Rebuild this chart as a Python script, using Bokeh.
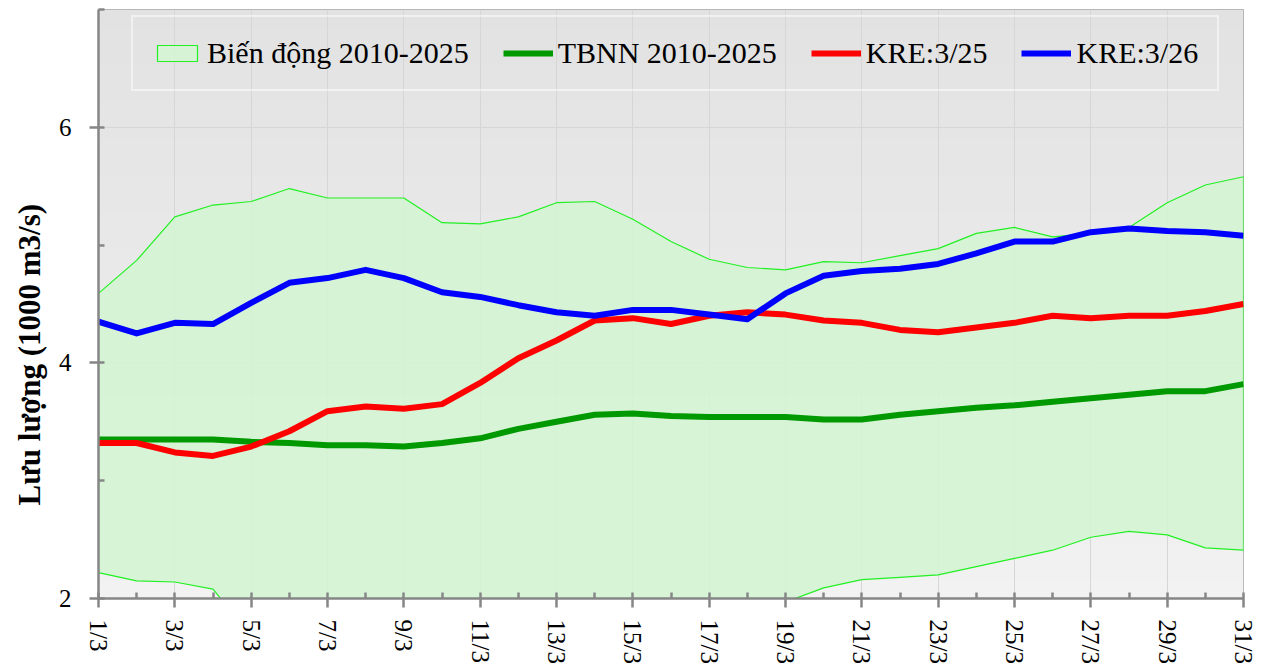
import math
import numpy as np
from bokeh.plotting import figure
from bokeh.models import FixedTicker, Legend, LegendItem, Range1d, Title
from bokeh.embed import file_html
from bokeh.resources import INLINE

# ---------------- data ----------------
days = list(range(1, 32))
x_tick_days = [1, 3, 5, 7, 9, 11, 13, 15, 17, 19, 21, 23, 25, 27, 29, 31]
x_minor_days = [2, 4, 6, 8, 10, 12, 14, 16, 18, 20, 22, 24, 26, 28, 30]
x_tick_labels = {d: f"{d}/3" for d in x_tick_days}
y_ticks = [2, 4, 6]
y_minor_ticks = [3, 5, 7]

band_upper = [4.59, 4.87, 5.24, 5.34, 5.37, 5.48, 5.40, 5.40, 5.40, 5.19,
              5.18, 5.24, 5.36, 5.37, 5.22, 5.03, 4.88, 4.81, 4.79, 4.86,
              4.85, 4.91, 4.97, 5.10, 5.15, 5.07, 5.10, 5.15, 5.36, 5.51, 5.58]
band_lower = [2.22, 2.15, 2.14, 2.08, 1.68, 1.62, 1.58, 1.55, 1.55, 1.58,
              1.60, 1.64, 1.68, 1.72, 1.76, 1.80, 1.85, 1.90, 1.97, 2.09,
              2.16, 2.18, 2.20, 2.27, 2.34, 2.41, 2.52, 2.57, 2.54, 2.43, 2.41]
tbnn = [3.35, 3.35, 3.35, 3.35, 3.33, 3.32, 3.30, 3.30, 3.29, 3.32,
        3.36, 3.44, 3.50, 3.56, 3.57, 3.55, 3.54, 3.54, 3.54, 3.52,
        3.52, 3.56, 3.59, 3.62, 3.64, 3.67, 3.70, 3.73, 3.76, 3.76, 3.82]
kre_25 = [3.32, 3.32, 3.24, 3.21, 3.29, 3.42, 3.59, 3.63, 3.61, 3.65,
          3.83, 4.04, 4.19, 4.36, 4.38, 4.33, 4.40, 4.43, 4.41, 4.36,
          4.34, 4.28, 4.26, 4.30, 4.34, 4.40, 4.38, 4.40, 4.40, 4.44, 4.50]
kre_26 = [4.35, 4.25, 4.34, 4.33, 4.51, 4.68, 4.72, 4.79, 4.72, 4.60,
          4.56, 4.49, 4.43, 4.40, 4.45, 4.45, 4.41, 4.37, 4.59, 4.74,
          4.78, 4.80, 4.84, 4.93, 5.03, 5.03, 5.11, 5.14, 5.12, 5.11, 5.08]

labels = ["Biến động 2010-2025", "TBNN 2010-2025", "KRE:3/25", "KRE:3/26"]
y_title = "Lưu lượng (1000 m3/s)"

x_start, x_end = 1, 31
y_start, y_end = 2, 7

FONT = "Liberation Serif"

# ---------------- figure ----------------
p = figure(width=1272, height=672, output_backend="svg", toolbar_location=None,
           x_range=Range1d(x_start, x_end), y_range=Range1d(y_start, y_end),
           min_border_left=98, min_border_right=29, min_border_top=9,
           min_border_bottom=74)
p.background_fill_color = "#ffffff"
p.border_fill_color = "#ffffff"
p.outline_line_color = "#a8a8a8"
p.outline_line_width = 1

# gradient background of the plot area
n = 64
grad = np.zeros((n, 1), dtype=np.uint32)
view = grad.view(dtype=np.uint8).reshape((n, 1, 4))
for i in range(n):
    t = i / (n - 1)  # 0 bottom -> 1 top
    c = int(round(0xf2 + (0xe2 - 0xf2) * t))
    view[i, 0, :] = [c, c, c, 255]
p.image_rgba(image=[grad], x=x_start, y=y_start, dw=x_end - x_start,
             dh=y_end - y_start, level="image")

# band
band_x = days + days[::-1]
band_y = band_upper + band_lower[::-1]
r_band = p.patch(band_x, band_y, fill_color="#d4f4d4", fill_alpha=0.9,
                 line_color="#22f022", line_width=1.2)

r_tbnn = p.line(days, tbnn, line_color="#009900", line_width=6, line_join="round")
r_25 = p.line(days, kre_25, line_color="#ff0000", line_width=6, line_join="round")
r_26 = p.line(days, kre_26, line_color="#0000ff", line_width=6, line_join="round")

# ---------------- axes ----------------
xa = p.xaxis[0]
xa.ticker = FixedTicker(ticks=x_tick_days, minor_ticks=x_minor_days)
xa.major_label_overrides = x_tick_labels
xa.major_label_orientation = -math.pi / 2
xa.major_label_text_font = FONT
xa.major_label_text_font_size = "25px"
xa.major_label_text_color = "#000000"
xa.major_label_standoff = 12
xa.axis_line_color = "#868686"
xa.axis_line_width = 2.5
xa.major_tick_line_color = "#868686"
xa.major_tick_line_width = 2.5
xa.major_tick_out = 9
xa.major_tick_in = 6
xa.minor_tick_line_color = "#868686"
xa.minor_tick_line_width = 2.5
xa.minor_tick_out = 0
xa.minor_tick_in = 6

ya = p.yaxis[0]
ya.ticker = FixedTicker(ticks=y_ticks, minor_ticks=y_minor_ticks)
ya.major_label_text_font = FONT
ya.major_label_text_font_size = "25px"
ya.major_label_text_color = "#000000"
ya.major_label_standoff = 18
ya.axis_line_color = "#868686"
ya.axis_line_width = 2.5
ya.major_tick_line_color = "#868686"
ya.major_tick_line_width = 2.5
ya.major_tick_out = 9
ya.major_tick_in = 6
ya.minor_tick_line_color = "#868686"
ya.minor_tick_line_width = 2.5
ya.minor_tick_out = 0
ya.minor_tick_in = 6

# y title as a side title, anchored from the frame bottom like the reference
p.add_layout(Title(text=y_title, align="left", offset=93, standoff=18,
                   text_font=FONT, text_font_size="31px",
                   text_font_style="bold", text_color="#000000"), "left")

p.xgrid.grid_line_color = "#d6d6d6"
p.xgrid.grid_line_width = 1
p.ygrid.grid_line_color = "#d6d6d6"
p.ygrid.grid_line_width = 1

# ---------------- legend ----------------
legend = Legend(items=[
    LegendItem(label=labels[0], renderers=[r_band]),
    LegendItem(label=labels[1], renderers=[r_tbnn]),
    LegendItem(label=labels[2], renderers=[r_25]),
    LegendItem(label=labels[3], renderers=[r_26]),
], orientation="horizontal", location=(33, 507))
legend.label_text_font = FONT
legend.label_text_font_size = "30px"
legend.label_text_color = "#000000"
legend.glyph_width = 50
legend.glyph_height = 20
legend.label_standoff = 5
legend.spacing = 34
legend.padding = 19
legend.margin = 0
legend.background_fill_alpha = 0
legend.border_line_color = "#ffffff"
legend.border_line_width = 2.5
p.add_layout(legend)

open("out.html", "w").write(file_html(p, INLINE))
